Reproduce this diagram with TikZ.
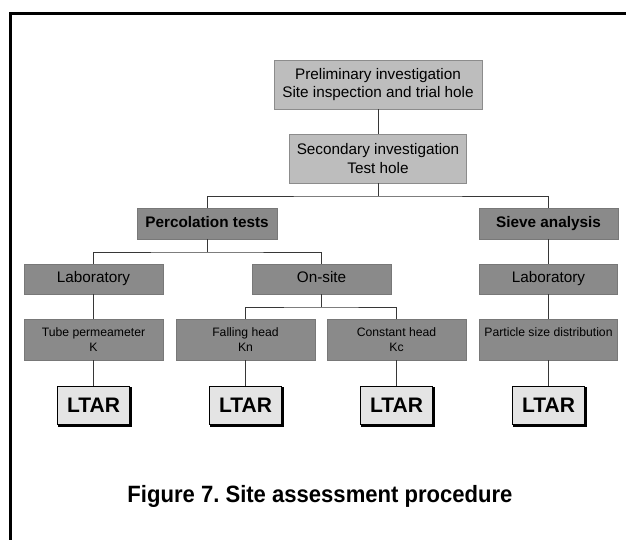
\documentclass[tikz,border=0pt]{standalone}
\usepackage{fontspec}
\setmainfont{Liberation Sans}
\usepackage{graphicx}
\frenchspacing
\definecolor{lightbox}{RGB}{189,189,189}
\definecolor{lightedge}{RGB}{140,140,140}
\definecolor{darkbox}{RGB}{138,138,138}
\definecolor{darkedge}{RGB}{120,120,120}
\definecolor{ltarfill}{RGB}{228,228,228}
\definecolor{conn}{RGB}{55,55,55}
\begin{document}
\begin{tikzpicture}[x=1pt,y=-1pt,
  lbox/.style={draw=lightedge,fill=lightbox,line width=0.8pt,inner sep=0pt,align=center,
    font=\fontsize{15.3}{18.3}\selectfont},
  dbox/.style={draw=darkedge,fill=darkbox,line width=0.6pt,inner sep=0pt,align=center,
    font=\fontsize{15.3}{18.3}\selectfont},
  sbox/.style={dbox,font=\fontsize{12.2}{14.7}\selectfont},
  ltar/.style={draw=black,fill=ltarfill,line width=1pt,inner sep=0pt,
    minimum width=72pt,minimum height=38pt,font=\fontsize{21}{24}\selectfont\bfseries},
  conn/.style={draw=conn,line width=0.9pt}]
\useasboundingbox (0,0) rectangle (626,540);
% frame
\draw[line width=2.6pt,line cap=rect] (10.5,560) -- (10.5,13.5) -- (640,13.5);
% top boxes
\node[lbox,minimum width=208pt,minimum height=49pt] (pre) at (378,84.5) {Preliminary investigation\\Site inspection and trial hole};
\node[lbox,minimum width=177pt,minimum height=49pt] (sec) at (378,158.5) {Secondary investigation\\Test hole};
% second level
\node[dbox,minimum width=140pt,minimum height=31pt] (perc) at (207,223.5) {\bfseries\strut Percolation tests};
\node[dbox,minimum width=139pt,minimum height=31pt] (sieve) at (548.5,223.5) {\bfseries\strut Sieve analysis};
% third level
\node[dbox,minimum width=139pt,minimum height=30pt] (lab1) at (93.5,279) {\strut Laboratory};
\node[dbox,minimum width=139pt,minimum height=30pt] (onsite) at (321.5,279) {\strut On-site};
\node[dbox,minimum width=138pt,minimum height=30pt] (lab2) at (548.5,279) {\strut Laboratory};
% fourth level
\node[sbox,minimum width=139pt,minimum height=41pt] (tube) at (93.5,339.5) {Tube permeameter\\K};
\node[sbox,minimum width=139pt,minimum height=41pt] (fall) at (245.5,339.5) {Falling head\\Kn};
\node[sbox,minimum width=139pt,minimum height=41pt] (const) at (396.5,339.5) {Constant head\\Kc};
\node[sbox,minimum width=138pt,minimum height=41pt] (part) at (548.5,339.5) {Particle size distribution\\\mbox{}};
% LTAR boxes
\foreach \n/\x in {l1/93.5,l2/245.5,l3/396.5,l4/548.5}{
  \node[ltar] (\n) at (\x,405.5) {LTAR};
  \draw[line width=1.4pt,black] ([xshift=1pt,yshift=-1pt]\n.north east) -- ([xshift=1pt,yshift=-1pt]\n.south east) -- ([xshift=1pt,yshift=-1pt]\n.south west);
}
% connectors
\draw[conn] (pre.south) -- (sec.north);
\draw[conn] (sec.south) -- (378,196) coordinate (j1);
\draw[conn] (perc.north) |- (j1) -| (sieve.north);
\draw[conn] (perc.south) -- (207,252) coordinate (j2);
\draw[conn] (lab1.north) |- (j2) -| (onsite.north);
\draw[conn] (sieve.south) -- (lab2.north);
\draw[conn] (lab1.south) -- (tube.north);
\draw[conn] (onsite.south) -- (321.5,307) coordinate (j3);
\draw[conn] (fall.north) |- (j3) -| (const.north);
\draw[conn] (lab2.south) -- (part.north);
\draw[conn] (tube.south) -- (l1.north);
\draw[conn] (fall.south) -- (l2.north);
\draw[conn] (const.south) -- (l3.north);
\draw[conn] (part.south) -- (l4.north);
% caption
\node[anchor=base,inner sep=0pt,font=\fontsize{23.6}{28}\selectfont\bfseries] (cap) at (320,502) {\scalebox{0.935}[1]{Figure 7. Site assessment procedure}};
\end{tikzpicture}
\end{document}
